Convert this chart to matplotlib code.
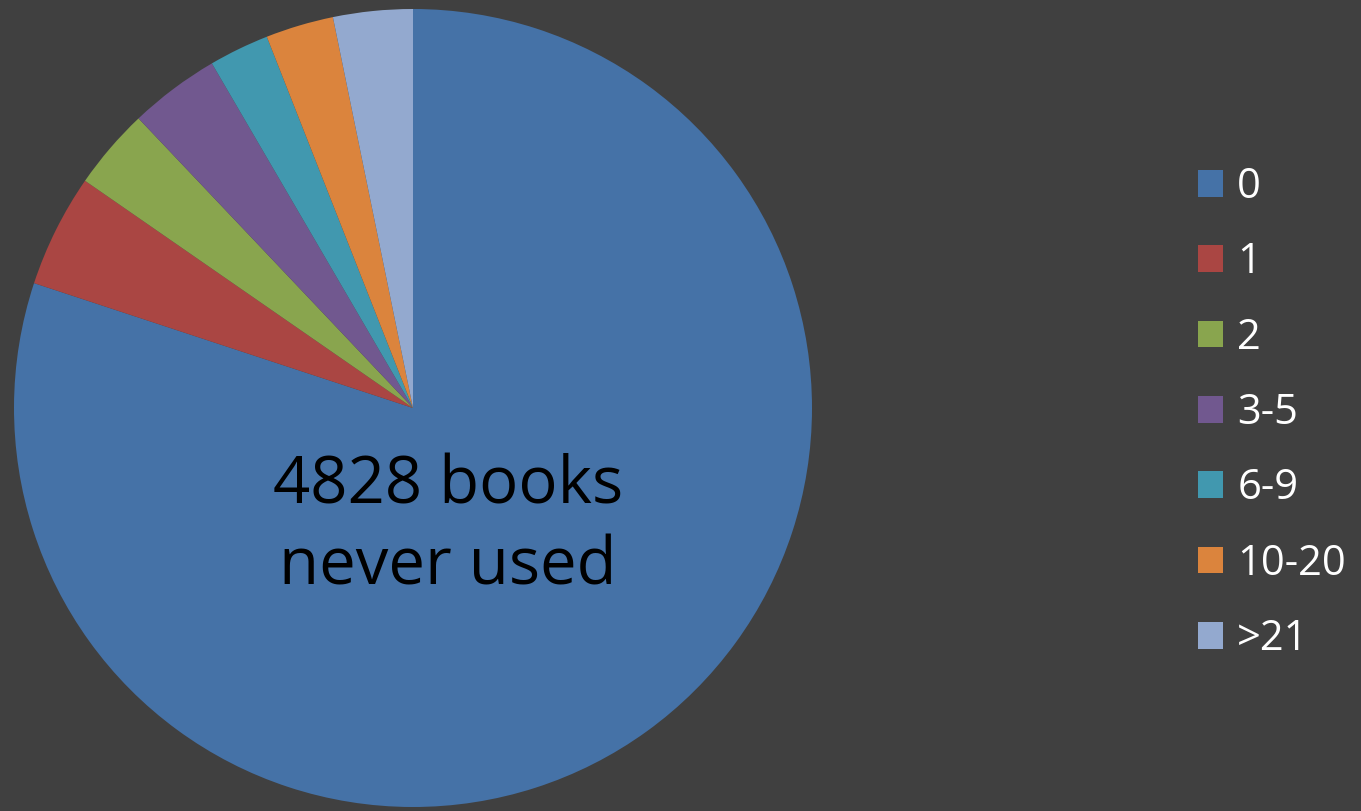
import matplotlib
matplotlib.use("Agg")
import matplotlib.pyplot as plt

categories = ["0", "1", "2", "3-5", "6-9", "10-20", ">21"]
values = [4828, 276, 198, 221, 147, 166, 194]
colors = ["#4572A7", "#AA4643", "#89A54E", "#71588F", "#4198AF", "#DB843D", "#93A9CF"]
center_label = "4828 books\nnever used"

BG = "#404040"
W, H = 1361, 811
fig = plt.figure(figsize=(W / 100, H / 100), dpi=100, facecolor=BG)

cx, cy, r = 413, 408, 399
ax = fig.add_axes([(cx - r) / W, (H - cy - r) / H, 2 * r / W, 2 * r / H])
ax.set_facecolor(BG)
wedges, _ = ax.pie(values, colors=colors, startangle=90, counterclock=False,
                   radius=1, wedgeprops=dict(linewidth=0))
ax.set_xlim(-1, 1)
ax.set_ylim(-1, 1)
ax.set_aspect("equal")
ax.axis("off")

fig.text(448 / W, 1 - 527 / H, center_label, ha="center", va="center",
         fontsize=47, color="black", family="Open Sans", linespacing=1.3)

leg = fig.legend(wedges, categories, loc="upper left",
                 bbox_to_anchor=(1198 / W, 1 - 166 / H),
                 frameon=False, labelcolor="white",
                 handlelength=0.6, handleheight=0.6, handletextpad=0.34,
                 labelspacing=0.8, borderpad=0, borderaxespad=0,
                 prop={"family": "Open Sans", "size": 30})

fig.savefig("out.png", dpi=100, facecolor=BG)
